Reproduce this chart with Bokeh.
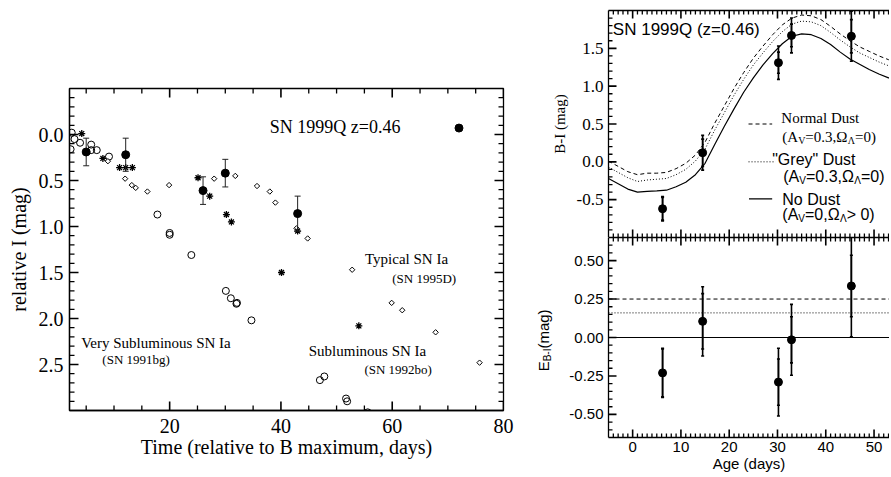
import math
from bokeh.plotting import figure
from bokeh.layouts import row, column
from bokeh.models import Range1d, LinearAxis, FixedTicker, Label, Span, PrintfTickFormatter, ColumnDataSource
from bokeh.embed import file_html
from bokeh.resources import INLINE

SERIF = "Liberation Serif"
SANS = "Liberation Sans"

# ---------------- left panel data (relative I light curves)
sn99q_day = [5.0, 12.1, 26.0, 30.0, 43.0]
sn99q_mag = [0.19, 0.22, 0.61, 0.42, 0.86]
sn99q_err = [0.15, 0.18, 0.15, 0.15, 0.19]

sn91bg_day = [2.2, 2.4, 2.9, 3.9, 5.9, 5.9, 6.9, 9.1, 17.8, 20.0, 20.0, 23.9,
              30.1, 31.0, 32.0, 32.1, 34.7, 47.0, 47.8, 51.7, 51.9, 55.6]
sn91bg_mag = [0.16, -0.02, 0.05, 0.09, 0.11, 0.17, 0.17, 0.24, 0.87, 1.07, 1.09, 1.31,
              1.70, 1.78, 1.84, 1.83, 2.02, 2.67, 2.63, 2.87, 2.90, 3.02]

sn92bo_day = [4.2, 8.0, 11.0, 12.1, 13.3, 25.1, 27.2, 30.2, 31.1, 40.1, 43.0, 54.0]
sn92bo_mag = [-0.01, 0.26, 0.36, 0.36, 0.36, 0.47, 0.67, 0.87, 0.95, 1.50, 1.05, 2.08]

sn95d_day = [8.9, 12.0, 13.2, 13.9, 16.0, 19.9, 28.0, 31.8, 35.7, 38.0, 39.0, 42.8,
             44.8, 52.8, 59.9, 61.8, 67.8, 75.7]
sn95d_mag = [0.29, 0.48, 0.55, 0.58, 0.62, 0.55, 0.48, 0.45, 0.56, 0.62, 0.74, 1.02,
             1.13, 1.47, 1.83, 1.91, 2.15, 2.48]

key_day = [72.0]
key_mag = [-0.07]

left_xticks = [20, 40, 60, 80]
left_xminor = [5, 10, 15, 25, 30, 35, 45, 50, 55, 65, 70, 75]
left_yticks = [0.0, 0.5, 1.0, 1.5, 2.0, 2.5]
left_yminor = [round(-0.4 + 0.1 * i, 1) for i in range(34) if i % 5 != 4]

left_texts = [
    ("SN 1999Q z=0.46", 38.0, -0.08, 18),
    ("Typical SN Ia", 55.1, 1.35, 15),
    ("(SN 1995D)", 60.0, 1.56, 13),
    ("Subluminous SN Ia", 45.0, 2.35, 15),
    ("(SN 1992bo)", 55.0, 2.55, 13),
    ("Very Subluminous SN Ia", 4.1, 2.27, 15),
    ("(SN 1991bg)", 7.9, 2.45, 13),
]

# ---------------- right panels data
age = [6.2, 14.5, 30.2, 32.9, 45.3]
bmi = [-0.62, 0.12, 1.31, 1.67, 1.66]
bmi_err = [0.16, 0.23, 0.22, 0.23, 0.33]
bmi_err_in = [0.15, 0.18, 0.14, 0.15, 0.22]

ebi = [-0.23, 0.105, -0.29, -0.015, 0.335]
ebi_err = [0.16, 0.225, 0.22, 0.23, 0.33]
ebi_err_in = [0.155, 0.18, 0.15, 0.15, 0.20]

model_day = [-5, -3, -1, 1, 3, 5, 7, 9, 11, 13, 15, 17, 19, 21, 23, 25, 27, 29,
             31, 33, 35, 37, 39, 41, 43, 45, 47, 49, 51, 53, 55]
nodust = [-0.22, -0.29, -0.36, -0.40, -0.39, -0.385, -0.375, -0.33, -0.27, -0.17, -0.02,
          0.23, 0.47, 0.70, 0.92, 1.11, 1.28, 1.43, 1.56, 1.66, 1.69, 1.68, 1.63, 1.55,
          1.45, 1.36, 1.29, 1.22, 1.16, 1.11, 1.07]
greydust = [-0.07, -0.14, -0.21, -0.26, -0.24, -0.23, -0.22, -0.17, -0.10, 0.01, 0.17,
            0.42, 0.65, 0.88, 1.09, 1.28, 1.44, 1.59, 1.72, 1.82, 1.86, 1.85, 1.80, 1.71,
            1.61, 1.52, 1.44, 1.38, 1.32, 1.27, 1.23]
normaldust = [0.01, -0.06, -0.13, -0.17, -0.15, -0.15, -0.14, -0.09, -0.02, 0.09, 0.26,
              0.51, 0.74, 0.97, 1.18, 1.37, 1.53, 1.68, 1.81, 1.90, 1.94, 1.93, 1.88, 1.79,
              1.69, 1.60, 1.52, 1.46, 1.40, 1.35, 1.31]

e_normal = 0.25
e_grey = 0.16
e_none = 0.0

age_ticks = [0, 10, 20, 30, 40, 50]
age_minor = [d for d in range(-4, 54) if d % 10 != 0]
bmi_ticks = [-0.5, 0.0, 0.5, 1.0, 1.5]
bmi_minor = [round(-0.9 + 0.1 * i, 1) for i in range(29) if (i + 1) % 5 != 0]
ebi_ticks = [-0.5, -0.25, 0.0, 0.25, 0.5]
ebi_minor = [round(-0.6 + 0.05 * i, 2) for i in range(25) if (i - 2) % 5 != 0]

DASH = "4 3"
DOT = "1 2"

# approximate glyph widths (em) for composing sub-scripted labels
W_SERIF = {'(': .333, ')': .333, 'A': .722, 'V': .722, '=': .564, '0': .5, '.': .25,
           '3': .5, ',': .25, 'Ω': .768, 'Λ': .722, ' ': .25, '>': .564, 'E': .611,
           'B': .667, '-': .333, 'I': .333}
W_SANS = {'(': .333, ')': .333, 'A': .667, 'V': .667, '=': .584, '0': .556, '.': .278,
          '3': .556, ',': .278, 'Ω': .768, 'Λ': .667, ' ': .278, '>': .584, 'E': .667,
          'B': .667, '-': .333, 'I': .278, 'm': .833, 'a': .556, 'g': .556}


def text_w(t, font, size):
    tab = W_SERIF if font == SERIF else W_SANS
    return sum(tab.get(c, 0.55) for c in t) * size


def compose(p, x, y, pieces, font, angle=0.0):
    off = 0.0
    for t, size, sub in pieces:
        if angle == 0.0:
            lab = Label(x=x, y=y, x_offset=off, y_offset=(-4 if sub else 0), text=t,
                        text_font=font, text_font_size=f"{size}px",
                        text_baseline="middle", text_align="left", text_color="black")
        else:
            lab = Label(x=x, y=y, x_offset=(4 if sub else 0), y_offset=off, text=t,
                        angle=angle, text_font=font, text_font_size=f"{size}px",
                        text_baseline="middle", text_align="left", text_color="black")
        p.add_layout(lab)
        off += text_w(t, font, size)


def clean(p):
    p.xgrid.visible = False
    p.ygrid.visible = False
    p.background_fill_color = None
    p.border_fill_color = None


def style_axis(ax, lw=1.3):
    ax.major_tick_in = 0
    ax.major_tick_out = 0
    ax.minor_tick_in = 0
    ax.minor_tick_out = 0
    ax.axis_line_color = "black"
    ax.axis_line_width = lw
    ax.major_label_text_color = "black"
    ax.axis_label_text_color = "black"


def line_axis(p, side):
    ax = LinearAxis(ticker=FixedTicker(ticks=[], minor_ticks=[]))
    ax.axis_label = None
    style_axis(ax)
    p.add_layout(ax, side)


def edge_ticks(p, frame_w, frame_h, side, pos, length, lw=1.0, color="black"):
    # inward tick marks drawn as short segments inside the frame
    xr, yr = p.x_range, p.y_range
    ppx = frame_w / abs(xr.end - xr.start)
    ppy = frame_h / abs(yr.end - yr.start)
    n = len(pos)
    sx = 1.0 if xr.end > xr.start else -1.0
    sy = 1.0 if yr.end > yr.start else -1.0
    if side in ("left", "right"):
        e = xr.start if side == "left" else xr.end
        d = sx if side == "left" else -sx
        src = ColumnDataSource(dict(x0=[e + d * 0.5 / ppx] * n, x1=[e + d * length / ppx] * n,
                                    y0=list(pos), y1=list(pos)))
    else:
        e = yr.start if side == "bottom" else yr.end
        d = sy if side == "bottom" else -sy
        src = ColumnDataSource(dict(x0=list(pos), x1=list(pos),
                                    y0=[e + d * 0.5 / ppy] * n, y1=[e + d * length / ppy] * n))
    p.segment(x0="x0", y0="y0", x1="x1", y1="y1", source=src,
              line_color=color, line_width=lw)


def errbars(p, xs, ys, errs, cap, lw, color="black"):
    lo = [y - e for y, e in zip(ys, errs)]
    hi = [y + e for y, e in zip(ys, errs)]
    p.segment(x0=xs, y0=lo, x1=xs, y1=hi, line_color=color, line_width=lw)
    p.scatter(x=xs + xs, y=lo + hi, marker="dash", size=cap, line_color=color, line_width=lw)


# ======================= left panel
W1, H1 = 530, 475
BL1, BR1, BT1, BB1 = 69, 27, 88, 65
p1 = figure(width=W1, height=H1, x_range=Range1d(2, 80), y_range=Range1d(3.0, -0.5),
            output_backend="svg", toolbar_location=None,
            min_border_left=BL1, min_border_right=BR1, min_border_top=BT1, min_border_bottom=BB1)
clean(p1)
p1.outline_line_color = "black"
p1.outline_line_width = 1.3
p1.xaxis.ticker = FixedTicker(ticks=left_xticks, minor_ticks=[])
p1.yaxis.ticker = FixedTicker(ticks=left_yticks, minor_ticks=[])
p1.yaxis.formatter = PrintfTickFormatter(format="%.1f")
for ax in (p1.xaxis[0], p1.yaxis[0]):
    style_axis(ax)
    ax.major_label_text_font = SERIF
    ax.major_label_text_font_size = "20px"
    ax.axis_label_text_font = SERIF
    ax.axis_label_text_font_size = "20px"
    ax.axis_label_text_font_style = "normal"
p1.xaxis.axis_label = "Time (relative to B maximum, days)"
p1.yaxis.axis_label = "relative I (mag)"
p1.xaxis.major_label_standoff = 8
p1.xaxis.axis_label_standoff = 0
p1.yaxis.major_label_standoff = 6
p1.yaxis.axis_label_standoff = 6
fw1, fh1 = W1 - BL1 - BR1, H1 - BT1 - BB1
for s in ("left", "right"):
    edge_ticks(p1, fw1, fh1, s, left_yticks, 9, 1.6)
    edge_ticks(p1, fw1, fh1, s, left_yminor, 5, 1.3)
for s in ("bottom", "top"):
    edge_ticks(p1, fw1, fh1, s, left_xticks, 9, 1.6)
    edge_ticks(p1, fw1, fh1, s, left_xminor, 5, 1.3)

p1.scatter(sn91bg_day, sn91bg_mag, marker="circle", size=7, fill_color=None,
           line_color="black", line_width=1)
p1.scatter(sn95d_day, sn95d_mag, marker="square", angle=math.pi / 4, size=3.8,
           fill_color="white", line_color="black", line_width=1)
p1.scatter(sn92bo_day, sn92bo_mag, marker="asterisk", size=7, line_color="black", line_width=1.3)
errbars(p1, sn99q_day, sn99q_mag, sn99q_err, cap=6, lw=1, color="#222222")
p1.scatter(sn99q_day, sn99q_mag, marker="circle", size=8, fill_color="black", line_color="black")
p1.scatter(key_day, key_mag, marker="circle", size=8, fill_color="black", line_color="black")
for t, x, y, s in left_texts:
    p1.add_layout(Label(x=x, y=y, text=t, text_font=SERIF, text_font_size=f"{s}px",
                        text_baseline="middle", text_align="left", text_color="black"))

# ======================= right top panel (B-I)
W2, H2 = 359, 237
BL2, BT2 = 78, 10
p2 = figure(width=W2, height=H2, x_range=Range1d(-5, 53.2), y_range=Range1d(-1.0, 2.0),
            output_backend="svg", toolbar_location=None,
            min_border_left=BL2, min_border_right=0, min_border_top=BT2, min_border_bottom=0)
clean(p2)
p2.outline_line_color = None
p2.xaxis.ticker = FixedTicker(ticks=[], minor_ticks=[])
style_axis(p2.xaxis[0])
p2.yaxis.ticker = FixedTicker(ticks=bmi_ticks, minor_ticks=[])
p2.yaxis.formatter = PrintfTickFormatter(format="%.1f")
style_axis(p2.yaxis[0])
p2.yaxis.major_label_text_font = SERIF
p2.yaxis.major_label_text_font_size = "17px"
p2.yaxis.major_label_standoff = 5
p2.yaxis.axis_label = "B-I (mag)"
p2.yaxis.axis_label_text_font = SERIF
p2.yaxis.axis_label_text_font_size = "15px"
p2.yaxis.axis_label_text_font_style = "normal"
p2.yaxis.axis_label_standoff = 6
line_axis(p2, "above")
fw2, fh2 = W2 - BL2, H2 - BT2
edge_ticks(p2, fw2, fh2, "left", bmi_ticks, 8, 1.6)
edge_ticks(p2, fw2, fh2, "left", bmi_minor, 4, 1.3)
for s in ("top", "bottom"):
    edge_ticks(p2, fw2, fh2, s, age_ticks, 8, 1.6)
    edge_ticks(p2, fw2, fh2, s, age_minor, 4, 1.3)

p2.line(model_day, normaldust, line_color="black", line_width=1, line_dash=DASH)
p2.line(model_day, greydust, line_color="black", line_width=1, line_dash=DOT)
p2.line(model_day, nodust, line_color="black", line_width=1.2)
errbars(p2, age, bmi, bmi_err, cap=3, lw=1.6)
errbars(p2, age, bmi, bmi_err_in, cap=3, lw=1.6)
p2.scatter(age, bmi, marker="circle", size=8, fill_color="black", line_color="black")

p2.add_layout(Label(x=-4.1, y=1.75, text="SN 1999Q (z=0.46)", text_font=SANS, text_color="black",
                    text_font_size="17px", text_baseline="middle", text_align="left"))
# legend
p2.line([24.0, 28.9], [0.50, 0.50], line_color="black", line_width=1, line_dash=DASH)
p2.line([24.0, 29.6], [0.0, 0.0], line_color="black", line_width=1, line_dash=DOT)
p2.line([24.1, 28.9], [-0.49, -0.49], line_color="black", line_width=1.2)
compose(p2, 30.8, 0.575, [("Normal Dust", 15, False)], SERIF)
compose(p2, 31.0, 0.33, [("(A", 15, False), ("V", 10, True), ("=0.3,Ω", 15, False),
                         ("Λ", 10, True), ("=0)", 15, False)], SERIF)
compose(p2, 28.9, 0.035, [('"Grey" Dust', 16, False)], SANS)
compose(p2, 31.2, -0.19, [("(A", 16, False), ("V", 10, True), ("=0.3,Ω", 16, False),
                          ("Λ", 10, True), ("=0)", 16, False)], SANS)
compose(p2, 31.0, -0.50, [("No Dust", 16, False)], SANS)
compose(p2, 31.0, -0.70, [("(A", 16, False), ("V", 10, True), ("=0,Ω", 16, False),
                          ("Λ", 10, True), (" > 0)", 16, False)], SANS)

# ======================= right bottom panel (E_B-I)
W3, H3 = 334, 238
BL3, BB3 = 53, 38
p3 = figure(width=W3, height=H3, x_range=p2.x_range, y_range=Range1d(-0.65, 0.65),
            output_backend="svg", toolbar_location=None,
            min_border_left=BL3, min_border_right=0, min_border_top=0, min_border_bottom=BB3)
clean(p3)
p3.outline_line_color = None
p3.xaxis.ticker = FixedTicker(ticks=age_ticks, minor_ticks=[])
p3.yaxis.ticker = FixedTicker(ticks=ebi_ticks, minor_ticks=[])
p3.yaxis.formatter = PrintfTickFormatter(format="%.2f")
for ax in (p3.xaxis[0], p3.yaxis[0]):
    style_axis(ax)
    ax.major_label_text_font = SANS
    ax.major_label_text_font_size = "15px"
    ax.major_label_standoff = 5
p3.xaxis.major_label_standoff = 4
p3.xaxis.axis_label = "Age (days)"
p3.xaxis.axis_label_text_font = SANS
p3.xaxis.axis_label_text_font_size = "15px"
p3.xaxis.axis_label_text_font_style = "normal"
p3.xaxis.axis_label_standoff = 0
p3.yaxis.axis_label = None
line_axis(p3, "above")
fw3, fh3 = W3 - BL3, H3 - BB3
edge_ticks(p3, fw3, fh3, "left", ebi_ticks, 8, 1.6)
edge_ticks(p3, fw3, fh3, "left", ebi_minor, 4, 1.3)
for s in ("top", "bottom"):
    edge_ticks(p3, fw3, fh3, s, age_ticks, 8, 1.6)
    edge_ticks(p3, fw3, fh3, s, age_minor, 4, 1.3)

p3.add_layout(Span(location=e_normal, dimension="width", line_color="black",
                   line_width=1, line_dash=DASH))
p3.add_layout(Span(location=e_grey, dimension="width", line_color="black",
                   line_width=1, line_dash=DOT))
p3.add_layout(Span(location=e_none, dimension="width", line_color="black", line_width=1.2))
errbars(p3, age, ebi, ebi_err, cap=3, lw=1.6)
errbars(p3, age, ebi, ebi_err_in, cap=3, lw=1.6)
p3.scatter(age, ebi, marker="circle", size=8, fill_color="black", line_color="black")

# narrow strip holding the rotated E_B-I axis title
elab = figure(width=25, height=H3, x_range=Range1d(0, 1), y_range=p3.y_range,
              output_backend="svg", toolbar_location=None,
              min_border_left=0, min_border_right=0, min_border_top=0, min_border_bottom=BB3)
clean(elab)
elab.outline_line_color = None
elab.axis.visible = False
compose(elab, 0.52, -0.22, [("E", 15, False), ("B-I", 10, True), (" (mag)", 15, False)],
        SANS, angle=math.pi / 2)

layout = row(p1, column(p2, row(elab, p3)))
open("out.html", "w").write(file_html(layout, INLINE))
